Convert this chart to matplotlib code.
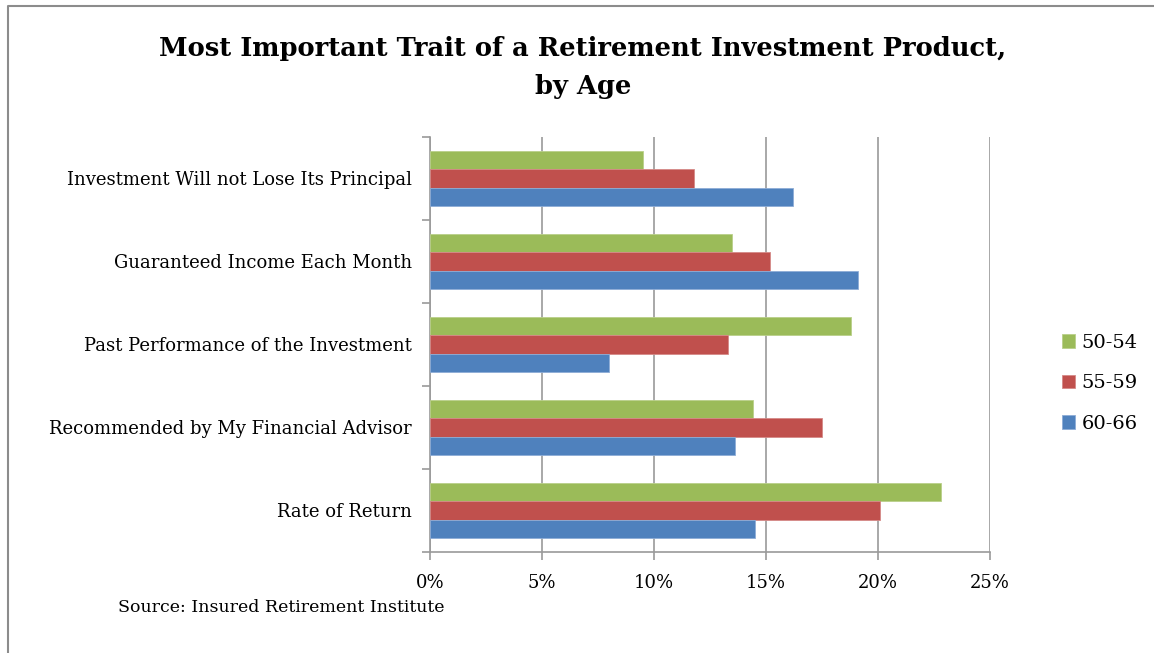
import numpy as np
import matplotlib.pyplot as plt
from matplotlib.lines import Line2D
from matplotlib.ticker import PercentFormatter

# data (percent)
categories = ['Investment Will not Lose Its Principal',
              'Guaranteed Income Each Month',
              'Past Performance of the Investment',
              'Recommended by My Financial Advisor',
              'Rate of Return']
age_50_54 = [9.5, 13.5, 18.8, 14.4, 22.8]
age_55_59 = [11.8, 15.2, 13.3, 17.5, 20.1]
age_60_66 = [16.2, 19.1, 8.0, 13.6, 14.5]
series_names = ['50-54', '55-59', '60-66']
x_ticks = [0, 5, 10, 15, 20, 25]

plt.rcParams['font.family'] = ['DejaVu Serif']

fig = plt.figure(figsize=(11.54, 6.53), dpi=100)
ax = fig.add_axes([0.3726, 0.1547, 0.4853, 0.6355])

# top category first, so flip the order
n = len(categories)
y = np.arange(n)[::-1]
h = 0.22
grey = '#9a9a9a'

b1 = ax.barh(y + h, age_50_54, height=h, color='#9BBB59', edgecolor='#b9d08a', lw=0.6, zorder=3)
b2 = ax.barh(y, age_55_59, height=h, color='#C0504D', edgecolor='#d58a88', lw=0.6, zorder=3)
b3 = ax.barh(y - h, age_60_66, height=h, color='#4F81BD', edgecolor='#8eadd6', lw=0.6, zorder=3)

ax.set_xlim(0, 25)
ax.set_ylim(-0.5, n - 0.5)
ax.set_xticks(x_ticks)
ax.xaxis.set_major_formatter(PercentFormatter(decimals=0))
ax.set_yticks(y)
ax.set_yticklabels(categories, fontsize=13)
ax.set_yticks(np.arange(-0.5, n, 1), minor=True)
ax.tick_params(axis='y', which='major', length=0, pad=13)
ax.tick_params(axis='y', which='minor', length=6, color=grey, width=1.2)
ax.tick_params(axis='x', length=6, color=grey, width=1.2, labelsize=13, pad=10)

ax.grid(axis='x', color=grey, lw=1.2, zorder=0)
for s in ['top', 'right']:
    ax.spines[s].set_visible(False)
for s in ['left', 'bottom']:
    ax.spines[s].set_color(grey)
    ax.spines[s].set_linewidth(1.2)

fig.text(0.505, 0.925, 'Most Important Trait of a Retirement Investment Product,',
         ha='center', va='center', fontsize=18.5, fontweight='bold')
fig.text(0.505, 0.868, 'by Age', ha='center', va='center', fontsize=18.5, fontweight='bold')
fig.text(0.102, 0.069, 'Source: Insured Retirement Institute', ha='left', va='center', fontsize=12.5)

fig.legend([b1, b2, b3], series_names, loc='center left', bbox_to_anchor=(0.905, 0.413),
           frameon=False, fontsize=14, handlelength=0.7, handleheight=0.7,
           handletextpad=0.3, labelspacing=1.15)

# outer chart border, only top and left show in the crop
fig.lines.append(Line2D([0.0065, 0.0065, 1.0], [0.0, 0.991, 0.991], transform=fig.transFigure,
                        color='#8c8c8c', lw=1.5))

fig.savefig('out.png', dpi=100)
